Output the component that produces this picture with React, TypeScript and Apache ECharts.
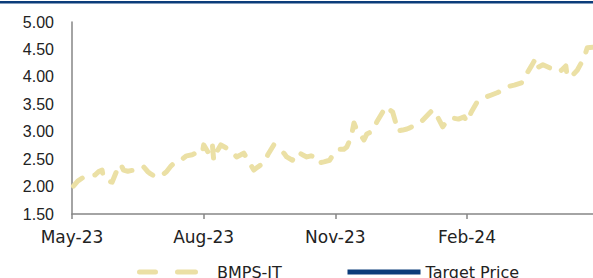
import React, { useEffect, useRef } from "react";
import * as echarts from "echarts";

const dates: string[] = [
  "2023-05-02", "2023-05-05", "2023-05-09", "2023-05-13", "2023-05-17", "2023-05-20", "2023-05-22", "2023-05-23", "2023-05-26", "2023-05-29",
  "2023-06-01", "2023-06-04", "2023-06-06", "2023-06-09", "2023-06-13", "2023-06-16", "2023-06-20", "2023-06-23", "2023-06-25", "2023-06-29",
  "2023-07-03", "2023-07-06", "2023-07-09", "2023-07-12", "2023-07-16", "2023-07-20", "2023-07-24", "2023-07-28", "2023-07-31",
  "2023-08-01", "2023-08-04", "2023-08-07", "2023-08-08", "2023-08-10", "2023-08-13", "2023-08-17", "2023-08-21", "2023-08-24", "2023-08-27", "2023-08-29",
  "2023-09-01", "2023-09-05", "2023-09-08", "2023-09-12", "2023-09-15", "2023-09-19", "2023-09-22", "2023-09-26", "2023-09-28",
  "2023-10-02", "2023-10-04", "2023-10-06", "2023-10-09", "2023-10-12", "2023-10-15", "2023-10-18", "2023-10-20", "2023-10-24", "2023-10-28", "2023-10-31",
  "2023-11-03", "2023-11-07", "2023-11-09", "2023-11-12", "2023-11-14", "2023-11-16", "2023-11-21", "2023-11-23", "2023-11-27", "2023-11-30",
  "2023-12-05", "2023-12-07", "2023-12-09", "2023-12-11", "2023-12-13", "2023-12-14", "2023-12-18", "2023-12-21", "2023-12-23", "2023-12-28",
  "2024-01-01", "2024-01-05", "2024-01-08", "2024-01-11", "2024-01-15", "2024-01-18", "2024-01-22", "2024-01-26", "2024-01-30",
  "2024-02-01", "2024-02-04", "2024-02-08", "2024-02-11", "2024-02-14", "2024-02-18", "2024-02-22", "2024-02-26", "2024-02-29",
  "2024-03-05", "2024-03-10", "2024-03-12", "2024-03-14", "2024-03-17", "2024-03-20", "2024-03-22", "2024-03-25", "2024-03-30",
  "2024-04-04", "2024-04-07", "2024-04-10", "2024-04-11", "2024-04-15", "2024-04-18", "2024-04-22", "2024-04-24", "2024-04-25", "2024-04-29",
];

const bmpsPrices: number[] = [
  2.01, 2.10, 2.17, 2.19, 2.21, 2.28, 2.30, 2.16, 2.10, 2.08,
  2.27, 2.41, 2.30, 2.28, 2.30, 2.30, 2.36, 2.27, 2.23, 2.17,
  2.21, 2.27, 2.37, 2.45, 2.48, 2.56, 2.58, 2.63, 2.61,
  2.76, 2.63, 2.79, 2.48, 2.63, 2.76, 2.70, 2.63, 2.54, 2.58, 2.61,
  2.48, 2.30, 2.36, 2.43, 2.59, 2.76, 2.70, 2.61, 2.54,
  2.48, 2.58, 2.63, 2.58, 2.54, 2.56, 2.54, 2.43, 2.45, 2.48, 2.61,
  2.68, 2.68, 2.72, 2.90, 3.16, 3.03, 2.85, 2.96, 3.01, 3.18,
  3.40, 3.34, 3.40, 3.36, 3.18, 3.01, 3.03, 3.05, 3.07, 3.14,
  3.21, 3.32, 3.40, 3.29, 3.09, 3.20, 3.25, 3.23, 3.27,
  3.18, 3.36, 3.54, 3.58, 3.63, 3.67, 3.71, 3.76, 3.82,
  3.85, 3.89, 4.02, 4.07, 4.20, 4.34, 4.18, 4.22, 4.16,
  4.09, 4.12, 4.20, 4.00, 4.04, 4.12, 4.31, 4.45, 4.53, 4.54,
];

const targetPrices: number[] = [];

const xTickLabels: string[] = ["May-23", "Aug-23", "Nov-23", "Feb-24"];
const xTickDates: string[] = ["2023-05-01", "2023-08-01", "2023-11-01", "2024-02-01"];
const axisEndDate = "2024-04-29";

const BMPS_COLOR = "#EBE0A5";
const TP_COLOR = "#0B3C7A";
// two rounded dashes for the legend key
const dashIcon =
  "path://M2.5,0 L18.5,0 A2.5,2.5 0 0 1 18.5,5 L2.5,5 A2.5,2.5 0 0 1 2.5,0 Z M40.5,0 L58.5,0 A2.5,2.5 0 0 1 58.5,5 L40.5,5 A2.5,2.5 0 0 1 40.5,0 Z";

const ORIGIN = Date.UTC(2023, 4, 1);
const dayOffset = (s: string) => {
  const [y, m, d] = s.split("-").map(Number);
  return Math.round((Date.UTC(y, m - 1, d) - ORIGIN) / 86400000);
};

export default function App() {
  const ref = useRef<HTMLDivElement>(null);
  useEffect(() => {
    document.body.style.margin = "0";
    if (!ref.current) return;
    const chart = echarts.init(ref.current, null, { renderer: "svg" });
    const tickVals = xTickDates.map(dayOffset);
    const bmpsData = dates.map((d, i) => [dayOffset(d), bmpsPrices[i]]);
    const tpData = targetPrices.map((v, i) => [dayOffset(dates[i]), v]);
    chart.setOption({
      animation: false,
      backgroundColor: "#ffffff",
      grid: { left: 72, right: 0, top: 22, bottom: 64 },
      graphic: [
        {
          type: "rect",
          left: 0,
          top: 1,
          shape: { x: 0, y: 0, width: 593, height: 2.5 },
          style: { fill: TP_COLOR },
          silent: true,
        },
      ],
      legend: [
        {
          data: [{ name: "BMPS-IT", icon: dashIcon }],
          left: 137,
          top: 264,
          itemWidth: 61,
          itemHeight: 5,
          padding: 0,
          itemStyle: { color: BMPS_COLOR, borderWidth: 0 },
          textStyle: {
            fontFamily: "DejaVu Sans",
            fontSize: 16,
            color: "#222",
            padding: [0, 0, 0, 14],
          },
        },
        {
          data: ["Target Price"],
          left: 345,
          top: 264,
          itemWidth: 73,
          itemHeight: 14,
          padding: 0,
          itemStyle: { opacity: 0 },
          lineStyle: { width: 5 },
          textStyle: { fontFamily: "DejaVu Sans", fontSize: 16, color: "#222" },
        },
      ],
      xAxis: {
        type: "value",
        min: 0,
        max: dayOffset(axisEndDate),
        interval: 92,
        splitLine: { show: false },
        axisLine: { show: true, lineStyle: { color: "#868686", width: 1.5 } },
        axisTick: {
          show: true,
          length: 5,
          lineStyle: { color: "#868686", width: 1.5 },
          customValues: tickVals,
        },
        axisLabel: {
          customValues: tickVals,
          margin: 14,
          fontFamily: "DejaVu Sans",
          fontSize: 17,
          color: "#222",
          formatter: (v: number) => {
            const idx = tickVals.indexOf(Math.round(v));
            return idx >= 0 ? xTickLabels[idx] : "";
          },
        },
      },
      yAxis: {
        type: "value",
        min: 1.5,
        max: 5,
        interval: 0.5,
        splitLine: { show: false },
        axisLine: { show: true, lineStyle: { color: "#868686", width: 1.5 } },
        axisTick: { show: false },
        axisLabel: {
          margin: 18,
          fontFamily: "Liberation Sans",
          fontSize: 16,
          color: "#222",
          formatter: (v: number) => v.toFixed(2),
        },
      },
      series: [
        {
          name: "BMPS-IT",
          type: "line",
          data: bmpsData,
          showSymbol: false,
          symbol: "none",
          color: BMPS_COLOR,
          lineStyle: { color: BMPS_COLOR, width: 5, type: [12, 13], cap: "round", join: "round" },
        },
        {
          name: "Target Price",
          type: "line",
          data: tpData,
          showSymbol: false,
          symbol: "none",
          color: TP_COLOR,
          lineStyle: { color: TP_COLOR, width: 5 },
        },
      ],
    });
    return () => chart.dispose();
  }, []);
  return <div ref={ref} style={{ width: 593, height: 278 }} />;
}
